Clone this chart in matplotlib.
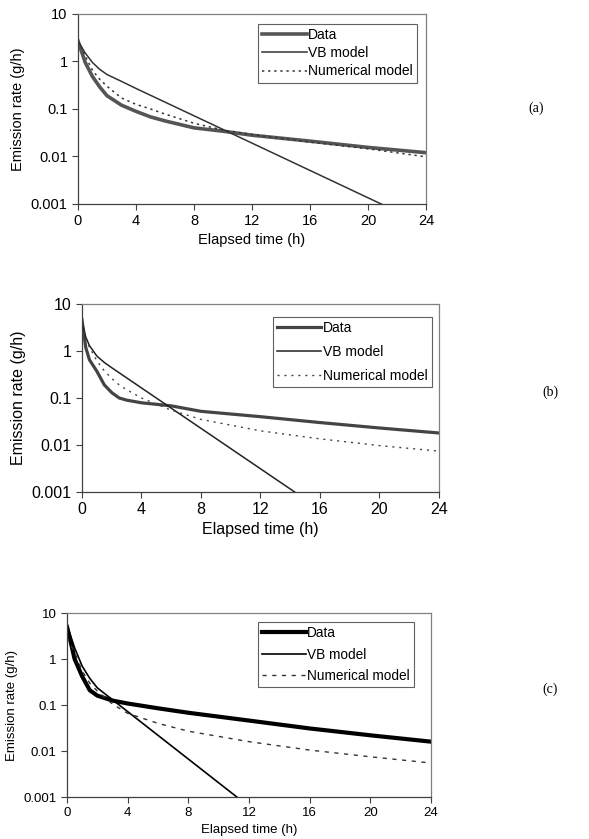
import numpy as np
import matplotlib
matplotlib.use("Agg")
import matplotlib.pyplot as plt

plt.rcParams['font.family'] = ['Liberation Sans', 'DejaVu Sans']

# ---- panel (a) ----
t_a = [0, 0.25, 0.5, 1, 1.5, 2, 3, 4, 5, 6, 8, 10, 12, 16, 20, 24]
data_a = [2.7, 1.6, 0.95, 0.48, 0.29, 0.19, 0.12, 0.089, 0.068, 0.056, 0.04, 0.034, 0.028, 0.021, 0.0155, 0.012]
num_a = [2.7, 1.9, 1.3, 0.65, 0.42, 0.3, 0.17, 0.125, 0.1, 0.078, 0.05, 0.036, 0.029, 0.02, 0.0145, 0.0098]
t_vb_a = [0, 0.5, 1, 1.5, 2, 3, 4, 20.9, 24]
vb_a = [2.7, 1.5, 0.95, 0.68, 0.53, 0.38, 0.27, 0.001, 0.00036]

# ---- panel (b) ----
t_b = [0, 0.25, 0.5, 1, 1.5, 2, 2.5, 3, 4, 6, 8, 12, 16, 20, 24]
data_b = [4.6, 1.2, 0.65, 0.37, 0.19, 0.13, 0.1, 0.09, 0.079, 0.068, 0.052, 0.04, 0.03, 0.023, 0.018]
num_b = [3.5, 1.8, 1.2, 0.62, 0.38, 0.26, 0.19, 0.15, 0.1, 0.055, 0.035, 0.02, 0.0135, 0.0097, 0.0074]
t_vb_b = [0, 0.25, 0.5, 1, 1.5, 2, 14.3, 24]
vb_b = [4.2, 2.0, 1.3, 0.78, 0.57, 0.44, 0.001, 0.0000082]

# ---- panel (c) ----
t_c = [0, 0.25, 0.5, 1, 1.5, 2, 3, 4, 6, 8, 12, 16, 20, 24]
data_c = [5.0, 2.3, 1.0, 0.42, 0.21, 0.16, 0.125, 0.108, 0.085, 0.068, 0.046, 0.031, 0.022, 0.016]
num_c = [3.0, 2.0, 1.4, 0.55, 0.3, 0.2, 0.105, 0.066, 0.04, 0.027, 0.016, 0.0105, 0.0075, 0.0055]
t_vb_c = [0, 0.5, 1, 1.5, 2, 11.2, 24]
vb_c = [5.5, 1.75, 0.7, 0.38, 0.236, 0.001, 0.0000005]

labels = ["Data", "VB model", "Numerical model"]
xticks = [0, 4, 8, 12, 16, 20, 24]
yticks = [0.001, 0.01, 0.1, 1, 10]
ytick_labels = ["0.001", "0.01", "0.1", "1", "10"]


def draw_panel(ax, t, data, num, t_vb, vb, styles, fs, leg_anchor, leg_fs, leg_space):
    d_style, v_style, n_style = styles
    ax.plot(t, data, label=labels[0], **d_style)
    ax.plot(t_vb, vb, label=labels[1], **v_style)
    ax.plot(t, num, label=labels[2], **n_style)
    ax.set_yscale('log')
    ax.set_xlim(0, 24)
    ax.set_ylim(0.001, 10)
    ax.set_xticks(xticks)
    ax.set_yticks(yticks)
    ax.set_yticklabels(ytick_labels)
    ax.minorticks_off()
    ax.tick_params(direction='out', length=4, width=0.8, labelsize=fs, color='#404040')
    ax.set_xlabel("Elapsed time (h)", fontsize=fs, labelpad=3)
    ax.set_ylabel("Emission rate (g/h)", fontsize=fs, labelpad=4)
    for side in ['top', 'right']:
        ax.spines[side].set_color('#808080')
    for side in ['left', 'bottom']:
        ax.spines[side].set_color('#404040')
    for s in ax.spines.values():
        s.set_linewidth(0.9)
    leg = ax.legend(loc='upper right', bbox_to_anchor=leg_anchor, fontsize=leg_fs,
                    fancybox=False, framealpha=1, edgecolor='#606060',
                    handlelength=3.2, handletextpad=0.1, labelspacing=leg_space,
                    borderpad=0.3, borderaxespad=0)
    leg.get_frame().set_linewidth(0.8)


fig = plt.figure(figsize=(5.89, 8.39), dpi=100)

ax_a = fig.add_axes([0.1324, 0.7569, 0.591, 0.2265])
draw_panel(ax_a, t_a, data_a, num_a, t_vb_a, vb_a,
           (dict(color='#555555', lw=2.6),
            dict(color='#333333', lw=1.1),
            dict(color='#333333', lw=1.1, ls=(0, (1.5, 2.5)))),
           10.5, (0.974, 0.947), 10, 0.3)

ax_b = fig.add_axes([0.1392, 0.4136, 0.606, 0.2241])
draw_panel(ax_b, t_b, data_b, num_b, t_vb_b, vb_b,
           (dict(color='#444444', lw=2.3),
            dict(color='#222222', lw=1.1),
            dict(color='#444444', lw=1.0, ls=(0, (1.5, 3.5)))),
           11.5, (0.980, 0.931), 10, 0.7)

ax_c = fig.add_axes([0.1138, 0.050, 0.618, 0.2193])
draw_panel(ax_c, t_c, data_c, num_c, t_vb_c, vb_c,
           (dict(color='black', lw=3.0),
            dict(color='black', lw=1.2),
            dict(color='#333333', lw=1.0, ls=(0, (3, 4)))),
           9.5, (0.953, 0.951), 9.8, 0.55)

fig.text(0.910, 0.871, "(a)", family='Liberation Serif', fontsize=10, ha='center', va='center')
fig.text(0.934, 0.532, "(b)", family='Liberation Serif', fontsize=10, ha='center', va='center')
fig.text(0.934, 0.178, "(c)", family='Liberation Serif', fontsize=10, ha='center', va='center')

fig.savefig("out.png", dpi=100)
